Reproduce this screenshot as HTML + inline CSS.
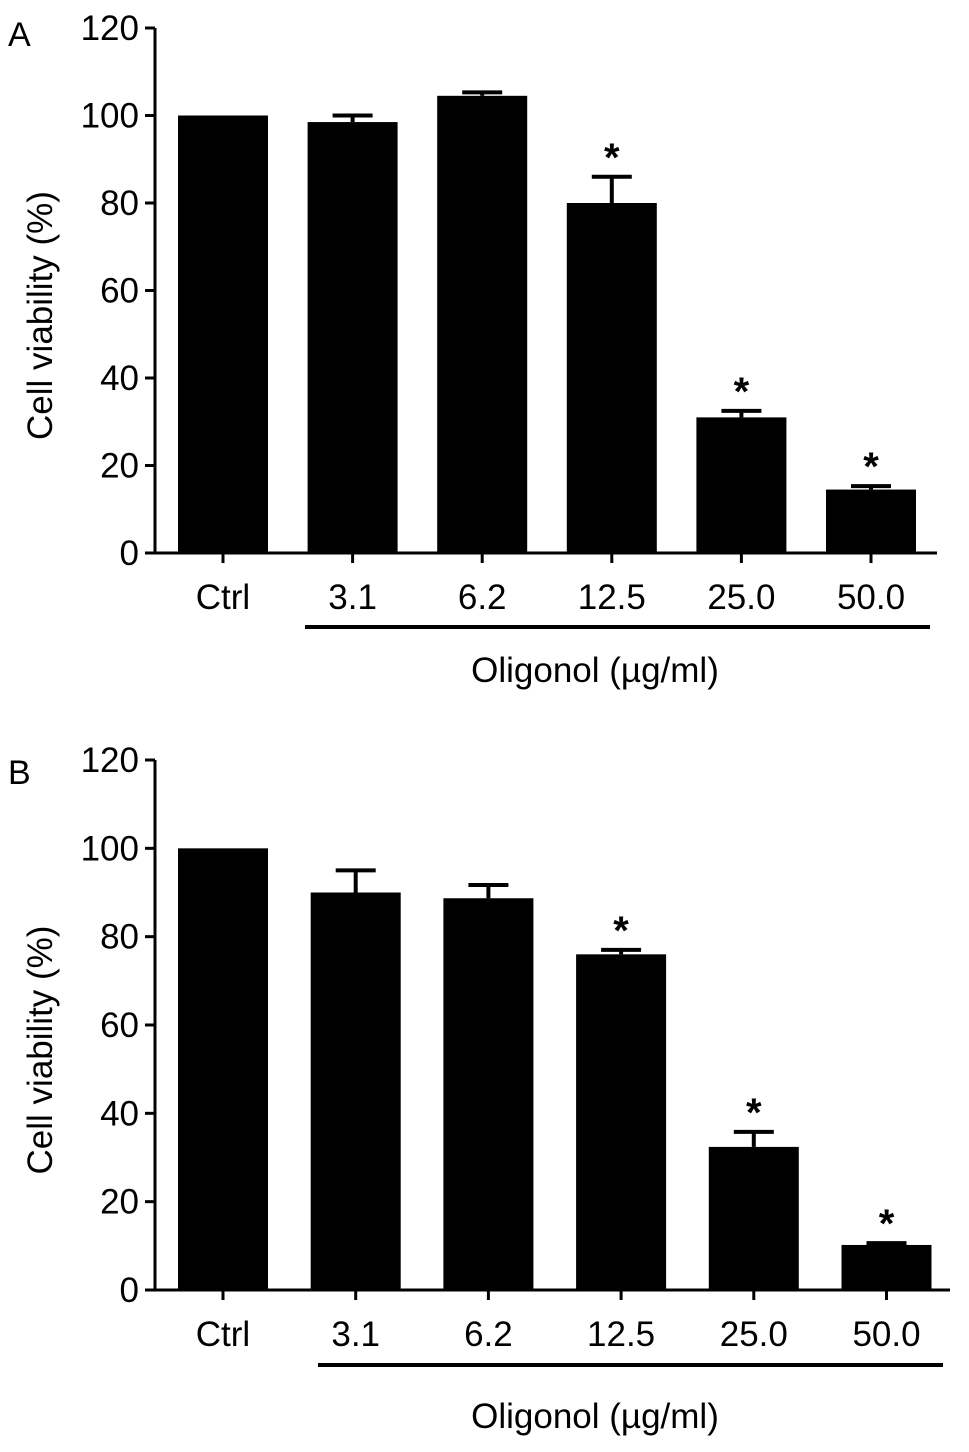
<!DOCTYPE html>
<html><head><meta charset="utf-8"><style>
body{margin:0;background:#fff}
svg text{font-family:"Liberation Sans",Arial,sans-serif;fill:#000}
</style></head><body>
<svg id="c" width="969" height="1447" xmlns="http://www.w3.org/2000/svg">
<text x="8" y="46" font-size="34">A</text>
<text x="8" y="784" font-size="34">B</text>
</svg>
<script>
const categories=["Ctrl","3.1","6.2","12.5","25.0","50.0"];
const ticks=[0,20,40,60,80,100,120];
const valuesA=[100,98.5,104.5,80,31,14.5];
const errA=[0,1.5,0.8,6,1.5,0.8];
const sigA=[false,false,false,true,true,true];
const valuesB=[100,90,88.7,76,32.4,10.2];
const errB=[0,5,3,1,3.4,0.4];
const sigB=[false,false,false,true,true,true];
const NS="http://www.w3.org/2000/svg";
const svg=document.getElementById('c');
function mk(t,a,txt){const e=document.createElementNS(NS,t);for(const k in a)e.setAttribute(k,a[k]);if(txt!==undefined)e.textContent=txt;svg.appendChild(e);return e;}
function panel(p,vals,errs,sig,y0,y120,x0,barStart,step,axisEnd,ulx1,ulx2,uly,olY,olX){
  const y=v=>y0-(v/120)*(y0-y120);
  const bx=i=>barStart+i*step;
  const bw=90;
  let e=mk('line',{x1:x0,y1:y120,x2:x0,y2:y0+1.5,stroke:'#000','stroke-width':3});
  
  e=mk('line',{x1:x0,y1:y0,x2:axisEnd,y2:y0,stroke:'#000','stroke-width':3});
  
  ticks.forEach(t=>{
    e=mk('line',{x1:x0-10,y1:y(t),x2:x0,y2:y(t),stroke:'#000','stroke-width':3});
    
    e=mk('text',{x:x0-16,y:y(t)+12,'font-size':35,'text-anchor':'end'},t);
    
  });
  e=mk('text',{transform:`translate(52,${(y0+y120)/2+25}) rotate(-90)`,'font-size':35,'text-anchor':'middle'},'Cell viability (%)');
  
  categories.forEach((c,i)=>{
    const cx=bx(i)+bw/2;
    if(errs[i]>0){
      e=mk('line',{x1:cx,y1:y(vals[i]),x2:cx,y2:y(vals[i]+errs[i]),stroke:'#000','stroke-width':4});
      
      e=mk('line',{x1:cx-20,y1:y(vals[i]+errs[i]),x2:cx+20,y2:y(vals[i]+errs[i]),stroke:'#000','stroke-width':4});
      
    }
    e=mk('rect',{x:bx(i),y:y(vals[i]),width:bw,height:y0-y(vals[i]),fill:'#000'});
    
    e=mk('line',{x1:cx,y1:y0,x2:cx,y2:y0+10,stroke:'#000','stroke-width':3});
    
    e=mk('text',{x:cx,y:y0+56,'font-size':35,'text-anchor':'middle'},c);
    
    if(sig[i]){
      e=mk('text',{x:cx,y:y(vals[i]+errs[i])-6,'font-size':40,'font-weight':'bold','text-anchor':'middle'},'*');
      
    }
  });
  e=mk('line',{x1:ulx1,y1:uly,x2:ulx2,y2:uly,stroke:'#000','stroke-width':4});
  
  e=mk('text',{x:olX,y:olY,'font-size':35,'text-anchor':'middle'},'Oligonol (\u00b5g/ml)');
  
}
panel('panel-a',valuesA,errA,sigA,553,28,155,178,129.6,937,305,930,627,682,595);
panel('panel-b',valuesB,errB,sigB,1290,760,155,178,132.7,950,318,943,1365,1428,595);
</script>
</body></html>
